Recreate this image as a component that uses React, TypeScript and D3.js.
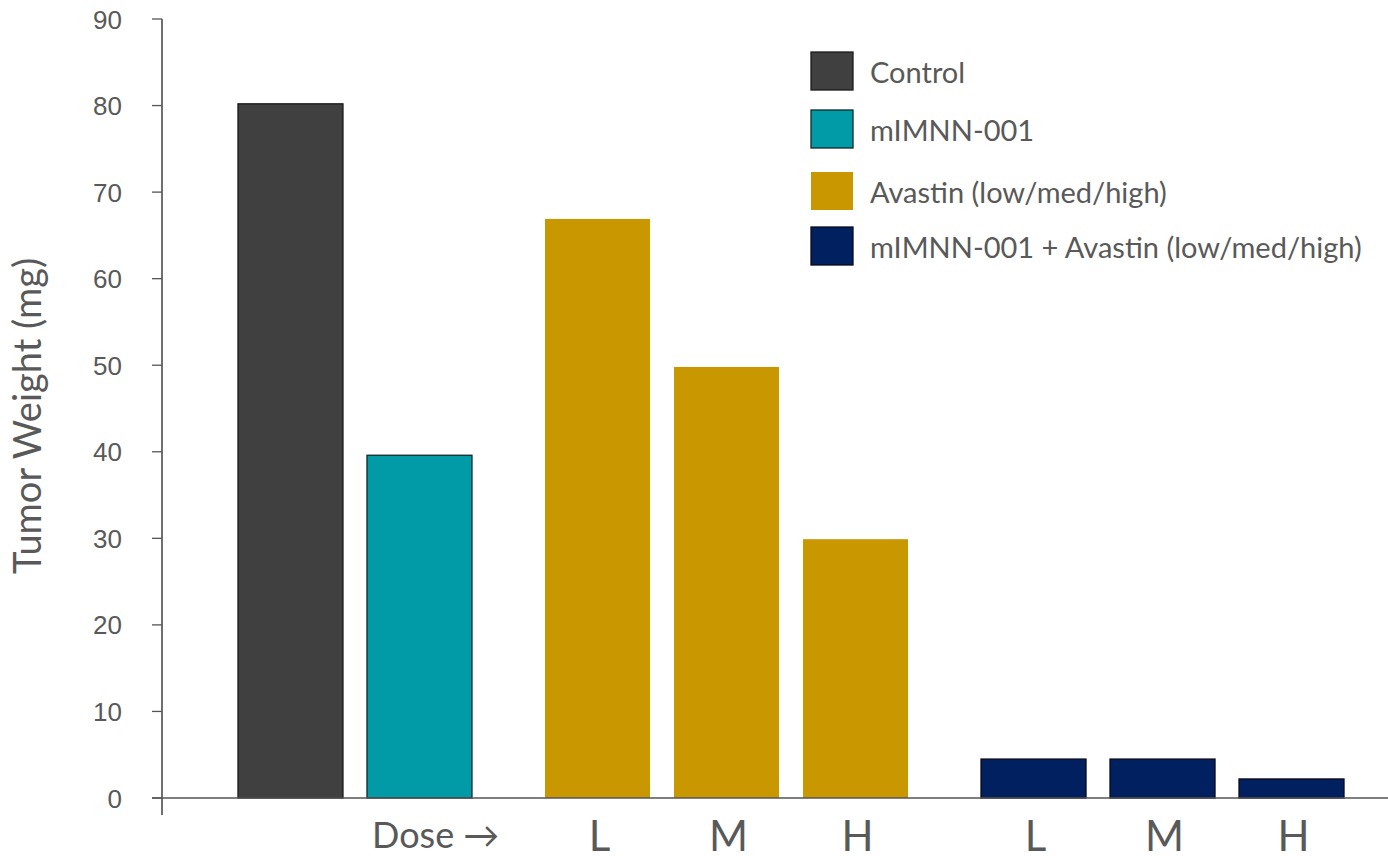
import React from "react";
import * as d3 from "d3";

const categories = ["Control", "mIMNN-001", "Avastin L", "Avastin M", "Avastin H", "Combo L", "Combo M", "Combo H"];
const groups = [0, 1, 2, 2, 2, 3, 3, 3];
const values = [80.2, 39.6, 66.9, 49.8, 29.9, 4.5, 4.5, 2.2];
const doseLabels = ["", "", "L", "M", "H", "L", "M", "H"];
const legendLabels = ["Control", "mIMNN-001", "Avastin (low/med/high)", "mIMNN-001 + Avastin (low/med/high)"];
const groupColors = ["#404040", "#009BA6", "#C99700", "#002060"];
const groupStroke = ["#1a1a1a", "#10282a", "none", "#0a0a1a"];
const yTicks = [0, 10, 20, 30, 40, 50, 60, 70, 80, 90];

const W = 1388;
const H = 856;

export default function App() {
  const y = d3.scaleLinear().domain([0, 90]).range([798, 19]);
  // slot position: index plus extra gap between dose groups
  const slot = (i: number) => i + 0.38 * Math.max(0, groups[i] - 1);
  const x = d3.scaleLinear().domain([-0.996, 8.508]).range([162, 1388]);
  const barW = 105;
  const textColor = "#595959";
  const font = "Lato, 'Open Sans', sans-serif";
  const legendY = [71, 129, 191, 246];

  return (
    <svg width={W} height={H} style={{ position: "absolute", left: 0, top: 0, background: "#fff" }}>
      {values.map((v, i) => {
        const cx = x(slot(i));
        const g = groups[i];
        return (
          <rect
            key={categories[i]}
            x={cx - barW / 2}
            y={y(v)}
            width={barW}
            height={y(0) - y(v)}
            fill={groupColors[g]}
            stroke={groupStroke[g]}
            strokeWidth={groupStroke[g] === "none" ? 0 : 1.3}
          />
        );
      })}
      <line x1={162} x2={162} y1={y(90)} y2={815} stroke="#222" strokeWidth={1.3} />
      <line x1={152} x2={1388} y1={y(0)} y2={y(0)} stroke="#555" strokeWidth={1.3} />
      {yTicks.map((t) => (
        <g key={t}>
          <line x1={152} x2={162} y1={y(t)} y2={y(t)} stroke="#555" strokeWidth={1.3} />
          <text
            x={122}
            y={y(t) + 9.5}
            textAnchor="end"
            fontSize={26}
            fontFamily="'Liberation Sans', Arial, sans-serif"
            fill={textColor}
          >
            {t}
          </text>
        </g>
      ))}
      <text
        transform={`translate(41,416) rotate(-90)`}
        textAnchor="middle"
        fontSize={38}
        fontFamily={font}
        fill={textColor}
      >
        Tumor Weight (mg)
      </text>
      <text x={372} y={848} fontSize={36} fontFamily={font} fill={textColor}>
        Dose →
      </text>
      {doseLabels.map((l, i) =>
        l ? (
          <text
            key={i}
            x={x(slot(i)) + 2}
            y={851}
            textAnchor="middle"
            fontSize={42}
            fontFamily={font}
            fill={textColor}
          >
            {l}
          </text>
        ) : null
      )}
      {legendLabels.map((l, i) => {
        const cy = legendY[i];
        return (
          <g key={l}>
            <rect
              x={811}
              y={cy - 19}
              width={42}
              height={38}
              fill={groupColors[i]}
              stroke={groupStroke[i]}
              strokeWidth={groupStroke[i] === "none" ? 0 : 1.3}
            />
            <text x={870} y={cy + 12} fontSize={29} fontFamily={font} fill={textColor}>
              {l}
            </text>
          </g>
        );
      })}
    </svg>
  );
}
